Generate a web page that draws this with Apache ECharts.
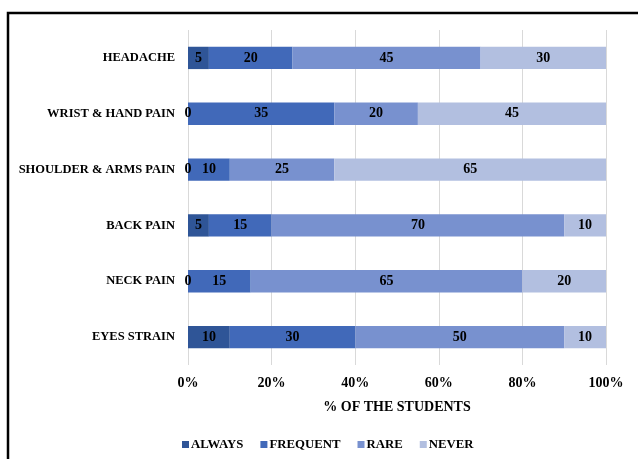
<!DOCTYPE html>
<html>
<head>
<meta charset="utf-8">
<script src="https://cdn.jsdelivr.net/npm/echarts@6/dist/echarts.min.js"></script>
<style>
html,body{margin:0;padding:0;background:#fff;}
#c{width:638px;height:459px;}
</style>
</head>
<body>
<div id="c"></div>
<script>
const categories = ['HEADACHE','WRIST & HAND PAIN','SHOULDER & ARMS PAIN','BACK PAIN','NECK PAIN','EYES STRAIN'];
const always   = [5, 0, 0, 5, 0, 10];
const frequent = [20, 35, 10, 15, 15, 30];
const rare     = [45, 20, 25, 70, 65, 50];
const never    = [30, 45, 65, 10, 20, 10];
const xTicks = [0, 20, 40, 60, 80, 100];

const seriesNames = ['ALWAYS','FREQUENT','RARE','NEVER'];
const seriesData = [always, frequent, rare, never];
const colors = ['#2F5597','#4169B9','#7891CF','#B2BFE0'];
const FONT = '"Liberation Serif", "Times New Roman", serif';

const chart = echarts.init(document.getElementById('c'));
chart.setOption({
  animation: false,
  textStyle: { fontFamily: FONT, fontWeight: 'bold', color: '#000' },
  graphic: [{
    type: 'rect', silent: true, z: 100,
    shape: { x: 8, y: 13, width: 800, height: 600 },
    style: { fill: 'none', stroke: '#000', lineWidth: 2.5 }
  }],
  grid: { left: 188, right: 32, top: 30, bottom: 94, containLabel: false },
  legend: {
    data: seriesNames,
    top: 438, left: 182, padding: 0,
    icon: 'rect', itemWidth: 7, itemHeight: 7, itemGap: 17,
    textStyle: { fontFamily: FONT, fontWeight: 'bold', fontSize: 12.8, color: '#000', padding: [0,0,0,-3] }
  },
  xAxis: {
    type: 'value', min: 0, max: 100, interval: 20,
    axisLine: { show: false }, axisTick: { show: false },
    splitLine: { show: true, lineStyle: { color: '#D9D9D9', width: 1 } },
    axisLabel: { formatter: v => xTicks.includes(v) ? v + '%' : '', fontFamily: FONT, fontWeight: 'bold', fontSize: 14, color: '#000', margin: 11 },
    name: '% OF THE STUDENTS', nameLocation: 'middle', nameGap: 35,
    nameTextStyle: { fontFamily: FONT, fontWeight: 'bold', fontSize: 14, color: '#000' }
  },
  yAxis: {
    type: 'category', data: categories, inverse: true,
    axisLine: { show: false }, axisTick: { show: false },
    axisLabel: { fontFamily: FONT, fontWeight: 'bold', fontSize: 12.5, color: '#000', margin: 13 }
  },
  series: seriesNames.map((n, i) => ({
    name: n, type: 'bar', stack: 'total', barWidth: '40%',
    data: seriesData[i],
    itemStyle: { color: colors[i] },
    label: { show: true, position: 'inside', color: '#000', fontFamily: FONT, fontWeight: 'bold', fontSize: 14 }
  }))
});
</script>
</body>
</html>
